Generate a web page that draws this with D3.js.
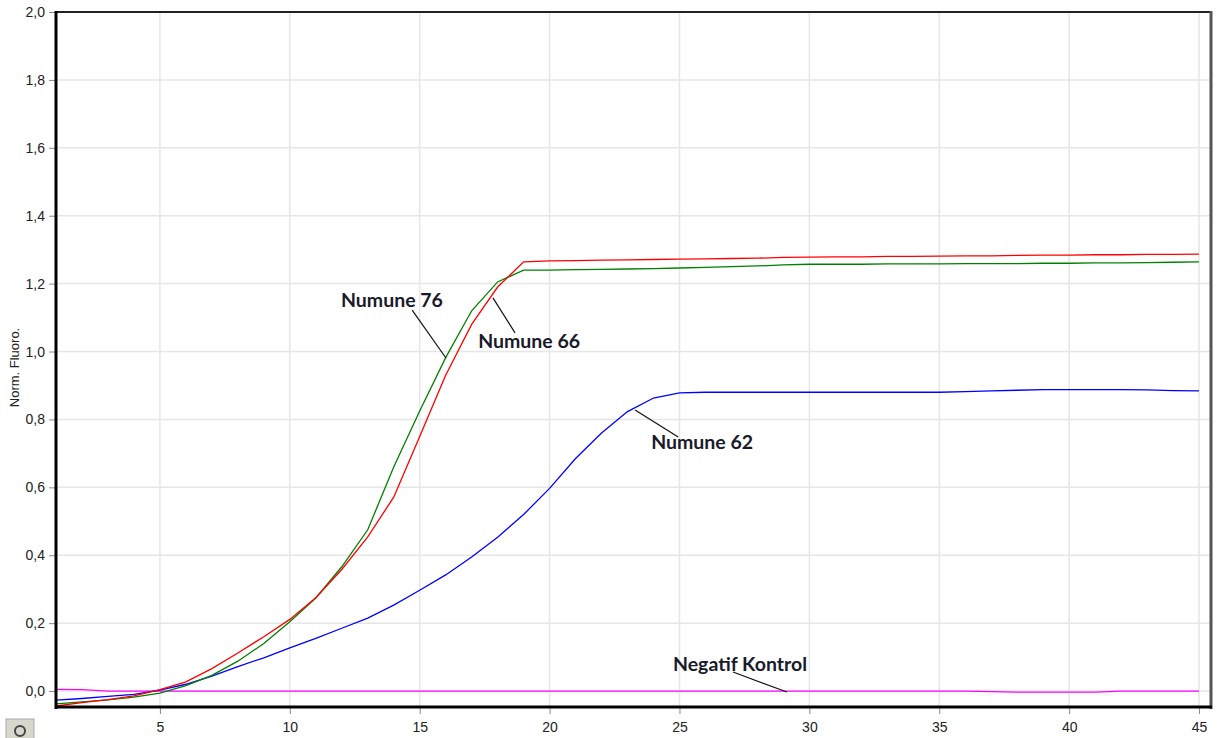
<!DOCTYPE html>
<html><head><meta charset="utf-8">
<script src="https://cdn.jsdelivr.net/npm/d3@7"></script>
<style>body{margin:0;background:#fff;}svg{display:block;}</style>
</head><body>
<script>
const cycles = d3.range(1, 46);
const red66 = [-0.044,-0.034,-0.025,-0.014,0.004,0.027,0.066,0.112,0.160,0.211,0.275,0.358,0.454,0.571,0.750,0.930,1.080,1.190,1.264,1.267,1.268,1.269,1.270,1.271,1.272,1.273,1.274,1.275,1.277,1.278,1.279,1.279,1.280,1.280,1.281,1.282,1.282,1.283,1.284,1.284,1.285,1.285,1.286,1.286,1.287];
const green76 = [-0.038,-0.032,-0.026,-0.018,-0.006,0.016,0.046,0.088,0.140,0.204,0.274,0.366,0.475,0.660,0.825,0.982,1.120,1.205,1.240,1.240,1.241,1.242,1.243,1.244,1.246,1.248,1.250,1.252,1.255,1.257,1.257,1.257,1.258,1.258,1.258,1.259,1.259,1.259,1.260,1.260,1.261,1.261,1.262,1.263,1.264];
const blue62 = [-0.027,-0.022,-0.016,-0.010,0.003,0.020,0.044,0.072,0.098,0.127,0.155,0.185,0.215,0.253,0.297,0.342,0.395,0.453,0.520,0.597,0.685,0.760,0.823,0.863,0.878,0.880,0.880,0.880,0.880,0.880,0.880,0.880,0.880,0.880,0.880,0.882,0.884,0.886,0.888,0.888,0.888,0.888,0.887,0.885,0.884];
const negKontrol = [0.005,0.004,0.000,0.000,0.000,0.000,0.000,0.000,0.000,0.000,0.000,0.000,0.000,0.000,0.000,0.000,0.000,0.000,0.000,0.000,0.000,0.000,0.000,0.000,0.000,0.000,0.000,0.000,0.000,0.000,0.000,0.000,0.000,0.000,0.000,0.000,-0.002,-0.003,-0.003,-0.003,-0.003,0.000,0.000,0.000,0.000];
const xTicks = [5,10,15,20,25,30,35,40,45];
const yTicks = [0,0.2,0.4,0.6,0.8,1.0,1.2,1.4,1.6,1.8,2.0];
const seriesNames = ["Numune 66","Numune 76","Numune 62","Negatif Kontrol"];
const seriesColors = ["#ff0000","#008000","#0000ff","#ff00ff"];
const labels = [
  {text:"Numune 76", tx:11.97, ty:1.131, x1:14.71, y1:1.122, x2:16.01, y2:0.981},
  {text:"Numune 66", tx:17.25, ty:1.010, x1:17.82, y1:1.158, x2:18.67, y2:1.055},
  {text:"Numune 62", tx:23.91, ty:0.713, x1:23.29, y1:0.828, x2:24.95, y2:0.748},
  {text:"Negatif Kontrol", tx:24.75, ty:0.059, x1:27.06, y1:0.056, x2:29.14, y2:-0.003}
];

const W = 1221, H = 738;
const L = 56, R = 1211, T = 12, B = 707;
const svg = d3.select("body").append("svg").attr("width", W).attr("height", H);
const x = d3.scaleLinear().domain([1, 45.46]).range([L, R]);
const y = d3.scaleLinear().domain([-0.047, 2.0]).range([B, T]);

// grid
svg.append("g").selectAll("line").data(yTicks).join("line")
  .attr("x1", L).attr("x2", R).attr("y1", d => y(d)).attr("y2", d => y(d))
  .attr("stroke", "#e6e6e6").attr("stroke-width", 1.5);
svg.append("g").selectAll("line").data(xTicks).join("line")
  .attr("x1", d => x(d)).attr("x2", d => x(d)).attr("y1", T).attr("y2", B)
  .attr("stroke", "#e6e6e6").attr("stroke-width", 1.5);

// axes
const fmt = d => d3.format(".1f")(d).replace(".", ",");
const yAxis = svg.append("g").attr("transform", `translate(${L-1},0)`)
  .call(d3.axisLeft(y).tickValues(yTicks).tickFormat(fmt).tickSize(6).tickPadding(4));
const xAxis = svg.append("g").attr("transform", `translate(0,${B+1})`)
  .call(d3.axisBottom(x).tickValues(xTicks).tickFormat(d3.format("d")).tickSize(6).tickPadding(8));
[yAxis, xAxis].forEach(g => {
  g.select(".domain").remove();
  g.selectAll(".tick line").attr("stroke", "#888").attr("stroke-width", 1);
  g.selectAll("text").attr("font-family", "Liberation Sans, Arial, sans-serif").attr("font-size", 14).attr("fill", "#222");
});

// series
const line = d3.line().x((d, i) => x(cycles[i])).y(d => y(d));
const allSeries = [negKontrol, blue62, green76, red66];
const allColors = [seriesColors[3], seriesColors[2], seriesColors[1], seriesColors[0]];
svg.append("g").selectAll("path").data(allSeries).join("path")
  .attr("d", line).attr("fill", "none")
  .attr("stroke", (d, i) => allColors[i]).attr("stroke-width", 1.3);

// frame
svg.append("line").attr("x1", L).attr("x2", R).attr("y1", T).attr("y2", T).attr("stroke", "#222").attr("stroke-width", 2);
svg.append("line").attr("x1", R).attr("x2", R).attr("y1", T-1).attr("y2", B+2).attr("stroke", "#555").attr("stroke-width", 3);
svg.append("line").attr("x1", L).attr("x2", L).attr("y1", T-1).attr("y2", B+2).attr("stroke", "#000").attr("stroke-width", 3);
svg.append("line").attr("x1", L-1).attr("x2", R+1).attr("y1", B).attr("y2", B).attr("stroke", "#000").attr("stroke-width", 3);

// y title
svg.append("text").attr("transform", `translate(19,${(T+B)/2+8}) rotate(-90)`)
  .attr("text-anchor", "middle").attr("font-family", "Liberation Sans, Arial, sans-serif")
  .attr("font-size", 13).attr("fill", "#222").text("Norm. Fluoro.");

// annotations
const ann = svg.append("g");
ann.selectAll("line").data(labels).join("line")
  .attr("x1", d => x(d.x1)).attr("y1", d => y(d.y1)).attr("x2", d => x(d.x2)).attr("y2", d => y(d.y2))
  .attr("stroke", "#111").attr("stroke-width", 1.2);
ann.selectAll("text").data(labels).join("text")
  .attr("x", d => x(d.tx)).attr("y", d => y(d.ty))
  .attr("font-family", "Lato, Open Sans, sans-serif").attr("font-weight", "bold")
  .attr("font-size", 19.5).attr("fill", "#1a1a2a").text(d => d.text);

// small toolbar icon bottom-left
const ic = svg.append("g").attr("transform", "translate(6,719)");
ic.append("rect").attr("width", 28).attr("height", 20).attr("fill", "#d9d6cc").attr("stroke", "#aaa");
ic.append("circle").attr("cx", 14).attr("cy", 12).attr("r", 5).attr("fill", "none").attr("stroke", "#444").attr("stroke-width", 2);
</script>
</body></html>
